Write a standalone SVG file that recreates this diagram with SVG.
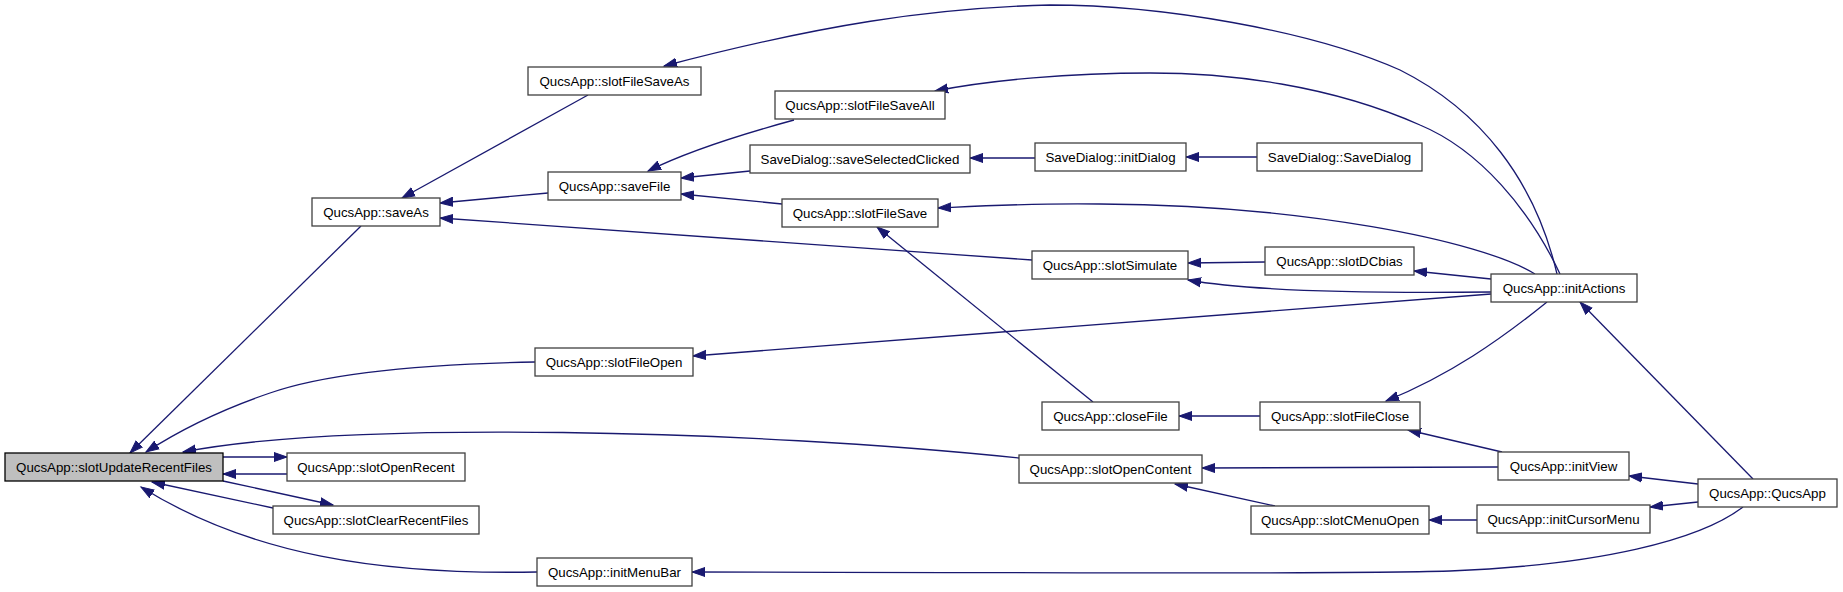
<svg xmlns="http://www.w3.org/2000/svg" width="1843" height="592" viewBox="0 0 1843 592">
<style>
.node rect{fill:#ffffff;stroke:#404040;stroke-width:1.3}
.node.focus rect{fill:#bfbfbf;stroke:#000000}
.node text{font-family:"Liberation Sans",Arial,sans-serif;font-size:13.3px;fill:#000000;text-anchor:middle}
#edges path{fill:none;stroke:#191970;stroke-width:1.3;marker-end:url(#arr)}
</style>
<defs>
<marker id="arr" markerUnits="userSpaceOnUse" markerWidth="15" markerHeight="12" refX="13" refY="5" orient="auto" viewBox="0 0 15 10">
<path d="M0,0.5 L13,5 L0,9.5 z" fill="#191970" stroke="#191970" stroke-width="1"/>
</marker>
</defs>
<rect width="1843" height="592" fill="#ffffff"/>
<g id="edges">
<path d="M361,226 L130,453"/>
<path d="M535,362 C430,364 330,372 270,393 C220,410 180,430 146,452"/>
<path d="M1019,458 C750,430 350,420 183,452"/>
<path d="M223,457 L287,457"/>
<path d="M287,474 L223,474"/>
<path d="M223,481 L333,505"/>
<path d="M273,508 L152,482"/>
<path d="M537,572 C380,575 250,555 141,487"/>
<path d="M588,95 L402,198"/>
<path d="M548,193 L440,203"/>
<path d="M1032,260 L440,218"/>
<path d="M794,120 C750,132 690,150 648,171"/>
<path d="M750,171 L681,178"/>
<path d="M782,204 L681,194"/>
<path d="M1093,402 L877,227"/>
<path d="M1535,274 C1480,240 1300,205 1100,204 C1030,203 980,206 938,208"/>
<path d="M1265,262 L1188,263"/>
<path d="M1491,292 C1400,293 1260,293 1188,280"/>
<path d="M1491,294 L693,356"/>
<path d="M1491,279 L1414,271"/>
<path d="M1557,274 C1535,180 1480,110 1400,70 C1310,30 1160,5 1050,5 C930,8 820,25 664,66"/>
<path d="M1560,274 C1530,210 1480,150 1420,125 C1330,85 1230,73 1150,73 C1070,73 990,80 935,91"/>
<path d="M1260,416 L1179,416"/>
<path d="M1547,302 C1500,340 1450,375 1386,401"/>
<path d="M1502,452 L1408,430"/>
<path d="M1498,467 L1202,468"/>
<path d="M1275,506 L1175,484"/>
<path d="M1477,520 L1429,520"/>
<path d="M1753,479 L1580,302"/>
<path d="M1698,484 L1629,476"/>
<path d="M1698,502 L1650,507"/>
<path d="M1743,507 C1700,540 1600,565 1450,571 C1300,575 1000,572 692,572"/>
<path d="M1035,158 L970,158"/>
<path d="M1257,157 L1186,157"/>
</g>
<g id="n_slotUpdateRecentFiles" class="node focus"><rect x="5" y="453" width="218" height="28"/><text x="114" y="472">QucsApp::slotUpdateRecentFiles</text></g>
<g id="n_slotOpenRecent" class="node"><rect x="287" y="453" width="178" height="28"/><text x="376" y="472">QucsApp::slotOpenRecent</text></g>
<g id="n_slotClearRecentFiles" class="node"><rect x="273" y="506" width="206" height="28"/><text x="376" y="525">QucsApp::slotClearRecentFiles</text></g>
<g id="n_saveAs" class="node"><rect x="312" y="198" width="128" height="28"/><text x="376" y="217">QucsApp::saveAs</text></g>
<g id="n_slotFileOpen" class="node"><rect x="535" y="348" width="158" height="28"/><text x="614" y="367">QucsApp::slotFileOpen</text></g>
<g id="n_initMenuBar" class="node"><rect x="537" y="558" width="155" height="28"/><text x="614.5" y="577">QucsApp::initMenuBar</text></g>
<g id="n_slotFileSaveAs" class="node"><rect x="528" y="67" width="173" height="28"/><text x="614.5" y="86">QucsApp::slotFileSaveAs</text></g>
<g id="n_saveFile" class="node"><rect x="548" y="172" width="133" height="28"/><text x="614.5" y="191">QucsApp::saveFile</text></g>
<g id="n_slotFileSaveAll" class="node"><rect x="775" y="91" width="170" height="28"/><text x="860" y="110">QucsApp::slotFileSaveAll</text></g>
<g id="n_saveSelectedClicked" class="node"><rect x="750" y="145" width="220" height="28"/><text x="860" y="164">SaveDialog::saveSelectedClicked</text></g>
<g id="n_slotFileSave" class="node"><rect x="782" y="199" width="156" height="28"/><text x="860" y="218">QucsApp::slotFileSave</text></g>
<g id="n_slotSimulate" class="node"><rect x="1032" y="251" width="156" height="28"/><text x="1110" y="270">QucsApp::slotSimulate</text></g>
<g id="n_slotOpenContent" class="node"><rect x="1019" y="455" width="183" height="28"/><text x="1110.5" y="474">QucsApp::slotOpenContent</text></g>
<g id="n_closeFile" class="node"><rect x="1042" y="402" width="137" height="28"/><text x="1110.5" y="421">QucsApp::closeFile</text></g>
<g id="n_initDialog" class="node"><rect x="1035" y="143" width="151" height="28"/><text x="1110.5" y="162">SaveDialog::initDialog</text></g>
<g id="n_slotDCbias" class="node"><rect x="1265" y="247" width="149" height="28"/><text x="1339.5" y="266">QucsApp::slotDCbias</text></g>
<g id="n_slotFileClose" class="node"><rect x="1260" y="402" width="160" height="28"/><text x="1340" y="421">QucsApp::slotFileClose</text></g>
<g id="n_slotCMenuOpen" class="node"><rect x="1251" y="506" width="178" height="28"/><text x="1340" y="525">QucsApp::slotCMenuOpen</text></g>
<g id="n_SaveDialog" class="node"><rect x="1257" y="143" width="165" height="28"/><text x="1339.5" y="162">SaveDialog::SaveDialog</text></g>
<g id="n_initActions" class="node"><rect x="1491" y="274" width="146" height="28"/><text x="1564" y="293">QucsApp::initActions</text></g>
<g id="n_initView" class="node"><rect x="1498" y="452" width="131" height="28"/><text x="1563.5" y="471">QucsApp::initView</text></g>
<g id="n_initCursorMenu" class="node"><rect x="1477" y="505" width="173" height="28"/><text x="1563.5" y="524">QucsApp::initCursorMenu</text></g>
<g id="n_QucsApp" class="node"><rect x="1698" y="479" width="139" height="28"/><text x="1767.5" y="498">QucsApp::QucsApp</text></g>
</svg>
